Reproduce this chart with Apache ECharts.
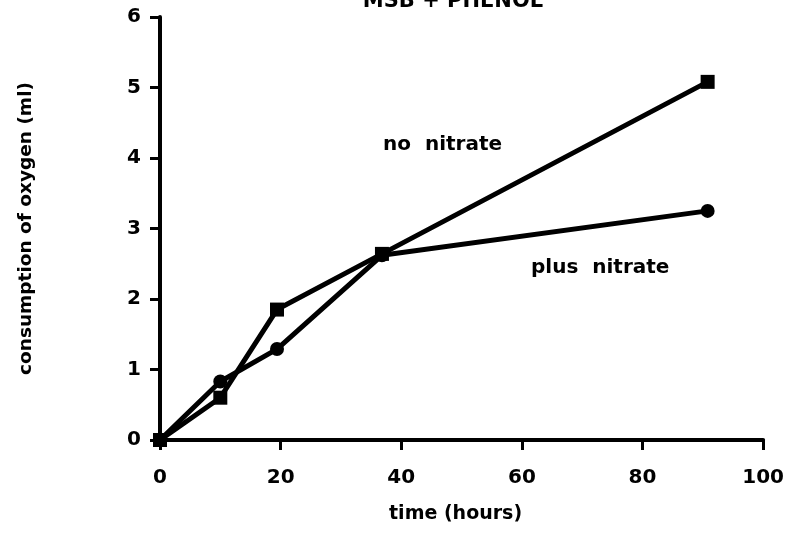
<!DOCTYPE html>
<html>
<head>
<meta charset="utf-8">
<script src="https://cdn.jsdelivr.net/npm/echarts@6/dist/echarts.min.js"></script>
<style>
  html, body { margin: 0; padding: 0; background: #fff; }
  #chart { width: 787px; height: 534px; }
</style>
</head>
<body>
<div id="chart"></div>
<script>
// time (hours) and oxygen consumption (ml)
var noNitrateTime = [0, 10, 19.4, 36.8, 90.8];
var noNitrateO2 = [0, 0.6, 1.85, 2.64, 5.08];
var plusNitrateTime = [0, 10, 19.4, 36.8, 90.8];
var plusNitrateO2 = [0, 0.83, 1.29, 2.62, 3.25];
var xTicks = [0, 20, 40, 60, 80, 100];
var yTicks = [0, 1, 2, 3, 4, 5, 6];

function pairs(xs, ys) {
	var out = [];
	for(var i = 0; i < xs.length; i++) {
		out.push([xs[i], ys[i]]);
	}
	return out;
}

var font = '"DejaVu Sans", Arial, sans-serif';
var chart = echarts.init(document.getElementById('chart'));

chart.setOption({
	animation: false,
	backgroundColor: '#fff',
	grid: { left: 160, right: 22, top: 17, bottom: 94 },
	xAxis: {
		type: 'value',
		min: xTicks[0],
		max: xTicks[xTicks.length - 1],
		interval: 20,
		name: 'time (hours)',
		nameLocation: 'middle',
		nameGap: 65,
		nameTextStyle: { fontFamily: font, fontWeight: 'bold', fontSize: 19, color: '#000', padding: [0, 12, 0, 0] },
		axisLine: { lineStyle: { color: '#000', width: 4 } },
		axisTick: { length: 10, lineStyle: { color: '#000', width: 3 } },
		axisLabel: { margin: 28, fontFamily: font, fontWeight: 'bold', fontSize: 20, color: '#000' },
		splitLine: { show: false }
	},
	yAxis: {
		type: 'value',
		min: yTicks[0],
		max: yTicks[yTicks.length - 1],
		interval: 1,
		name: 'consumption of oxygen (ml)',
		nameLocation: 'middle',
		nameGap: 124,
		nameRotate: 90,
		nameTextStyle: { fontFamily: font, fontWeight: 'bold', fontSize: 18.5, color: '#000' },
		axisLine: { lineStyle: { color: '#000', width: 4 } },
		axisTick: { length: 10, lineStyle: { color: '#000', width: 3 } },
		axisLabel: { margin: 19, fontFamily: font, fontWeight: 'bold', fontSize: 20, color: '#000' },
		splitLine: { show: false }
	},
	series: [{
			name: 'no nitrate',
			type: 'line',
			data: pairs(noNitrateTime, noNitrateO2),
			symbol: 'rect',
			symbolSize: 14,
			lineStyle: { color: '#000', width: 5 },
			itemStyle: { color: '#000' },
			z: 3
		},
		{
			name: 'plus nitrate',
			type: 'line',
			data: pairs(plusNitrateTime, plusNitrateO2),
			symbol: 'circle',
			symbolSize: 14,
			lineStyle: { color: '#000', width: 5 },
			itemStyle: { color: '#000' },
			z: 2
		}
	],
	graphic: [{
			type: 'text',
			x: 453,
			y: 12,
			style: { text: 'MSB + PHENOL', font: 'bold 21px ' + font, fill: '#000', align: 'center', verticalAlign: 'bottom' }
		},
		{
			type: 'text',
			left: 383,
			top: 135,
			style: { text: 'no  nitrate', font: 'bold 20px ' + font, fill: '#000' }
		},
		{
			type: 'text',
			left: 531,
			top: 258,
			style: { text: 'plus  nitrate', font: 'bold 20px ' + font, fill: '#000' }
		}
	]
});
</script>
</body>
</html>
